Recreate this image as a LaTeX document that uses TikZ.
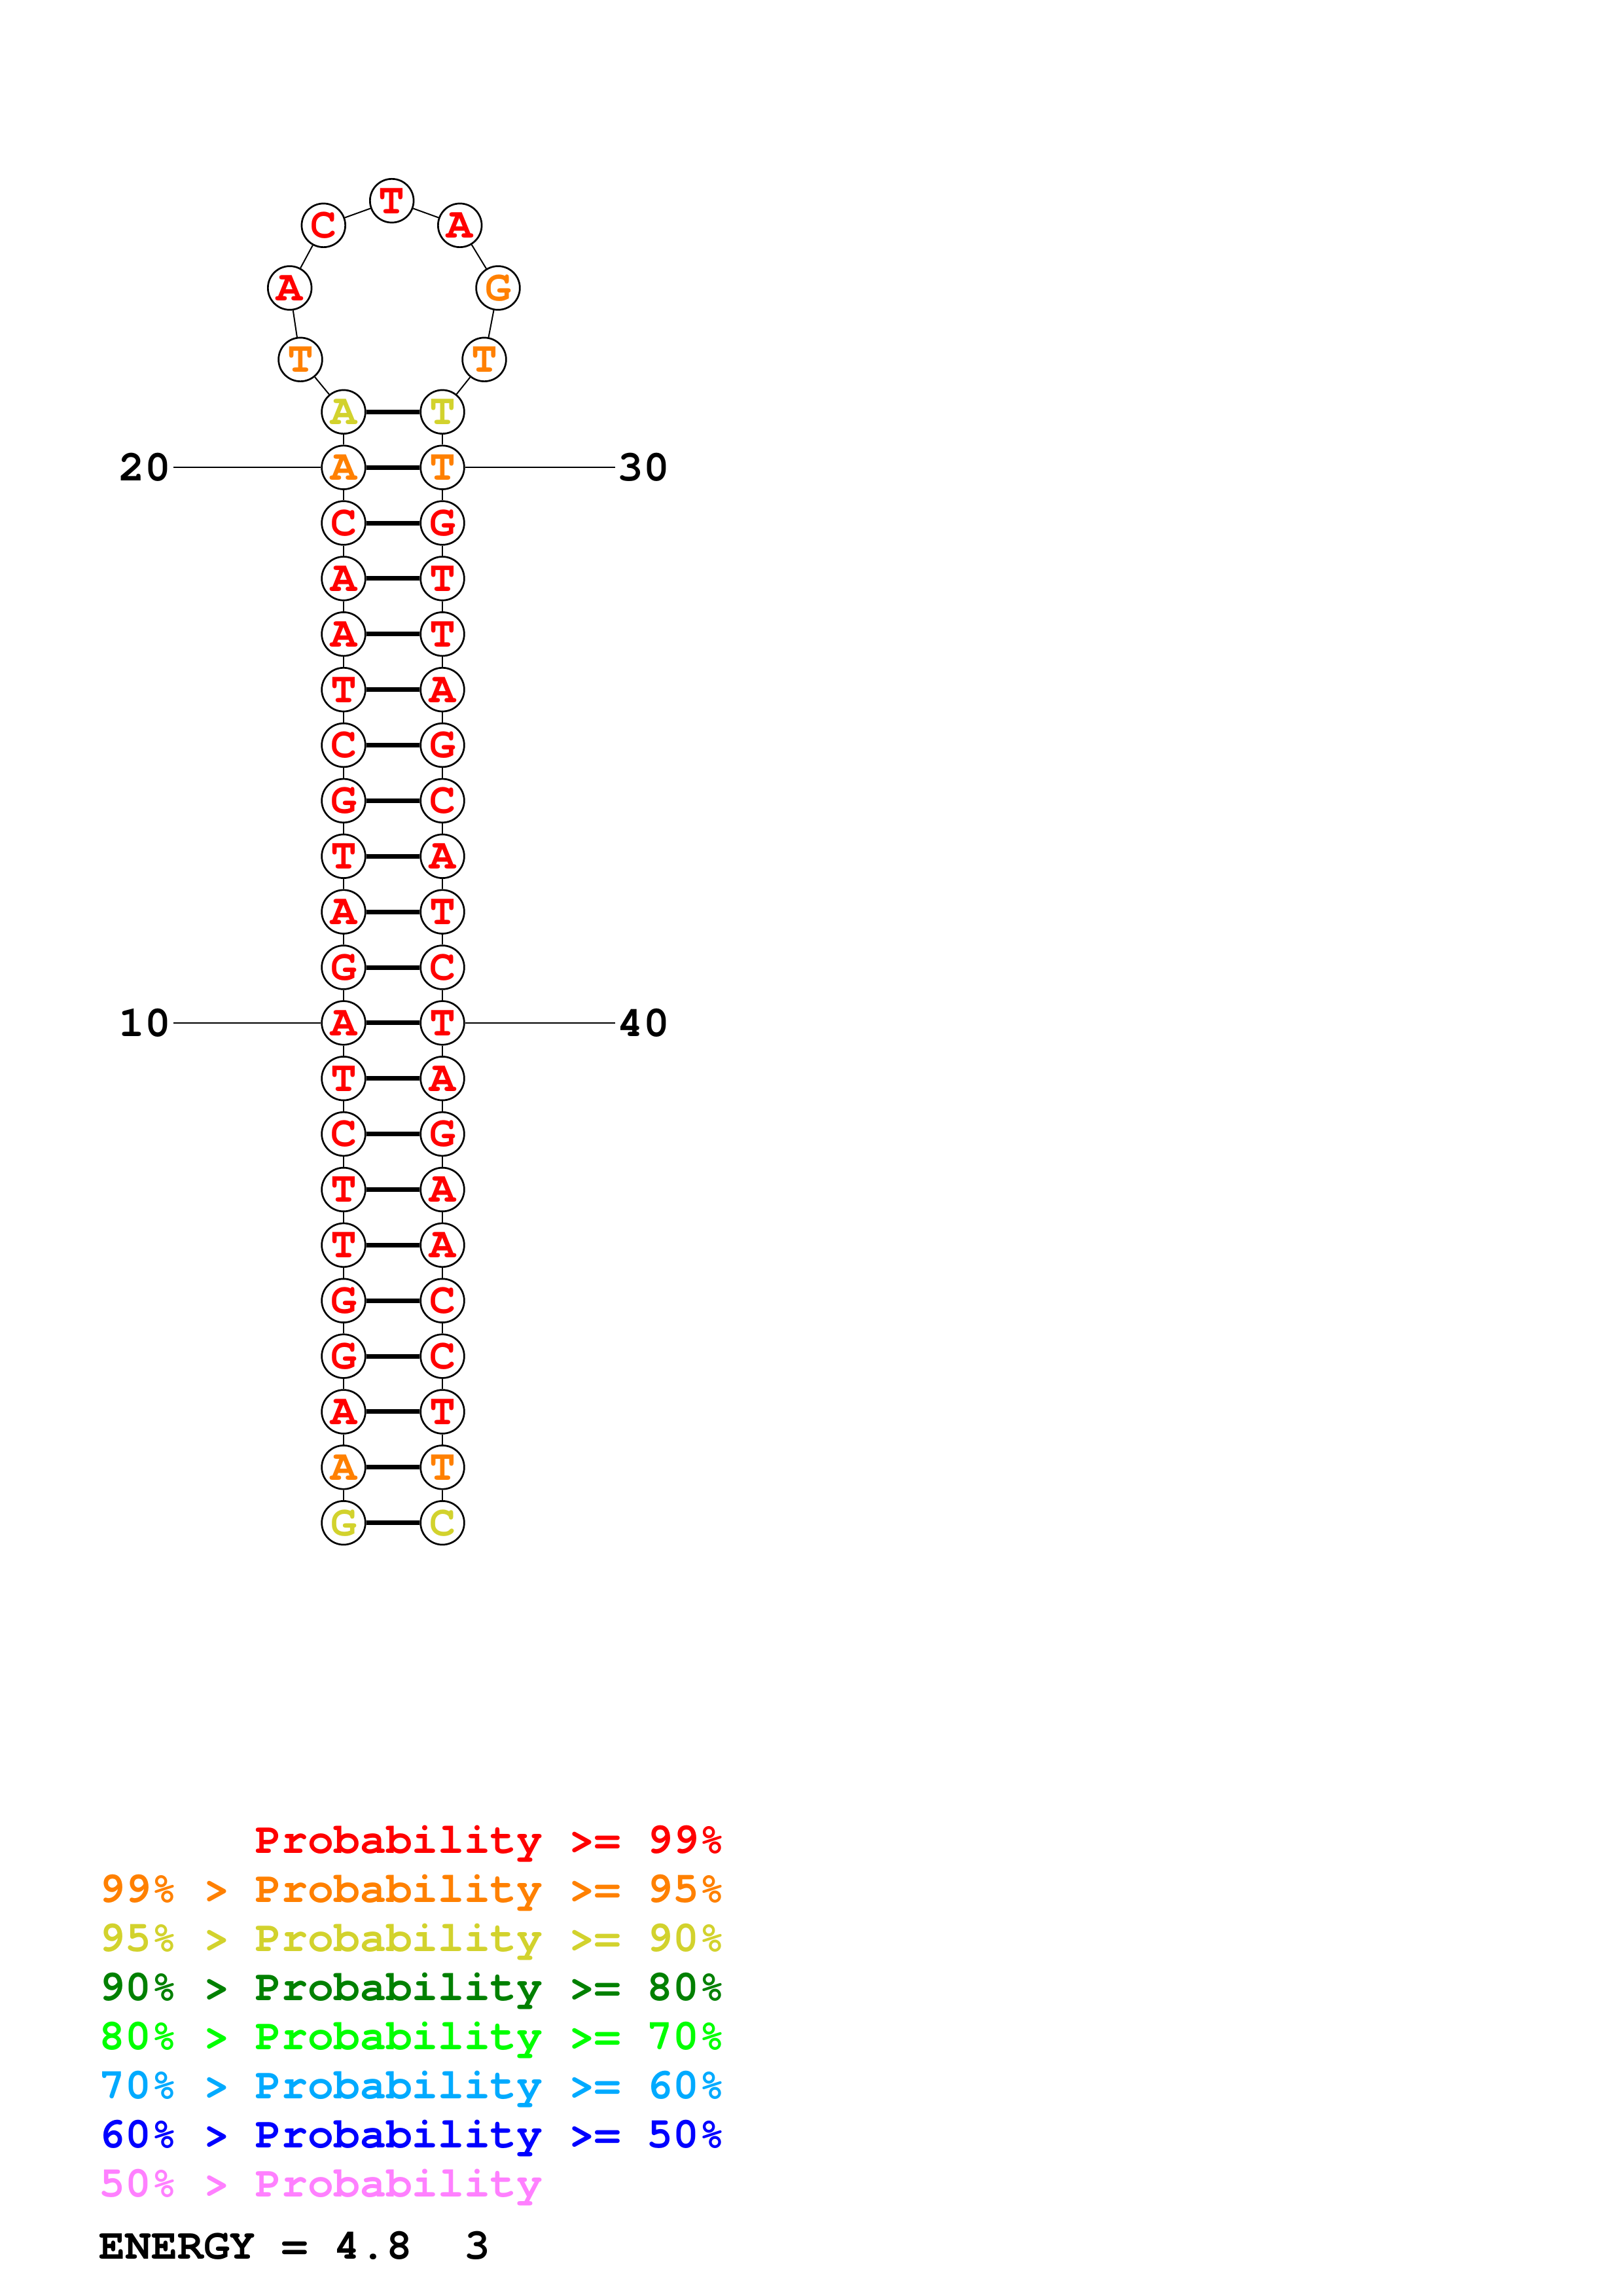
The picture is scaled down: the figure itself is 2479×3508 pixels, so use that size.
\documentclass[tikz,border=0pt]{standalone}
\usepackage{fontspec}
\newfontfamily\cour{TeX Gyre Cursor}
\definecolor{cred}{RGB}{255,0,0}
\definecolor{corg}{RGB}{255,128,0}
\definecolor{cyel}{RGB}{210,210,45}
\definecolor{cdgr}{RGB}{0,128,0}
\definecolor{clgr}{RGB}{0,255,0}
\definecolor{clbl}{RGB}{0,170,255}
\definecolor{cblu}{RGB}{0,0,255}
\definecolor{cpnk}{RGB}{255,128,255}
\newcommand\mysp{\hphantom{0}}
\tikzset{
  nuc/.style={circle, draw=black, line width=0.27mm, fill=white, minimum size=6.67mm, inner sep=0pt,
    font=\cour\bfseries\fontsize{18.9pt}{19pt}\selectfont},
  backbone/.style={line width=0.2mm},
  bond/.style={line width=0.7mm},
  tick/.style={line width=0.16mm},
  numlab/.style={inner sep=0.3mm, font=\cour\bfseries\fontsize{18.9pt}{19pt}\selectfont},
  legend/.style={anchor=base west, inner sep=0pt, font=\cour\bfseries\fontsize{18.9pt}{19pt}\selectfont}
}
\begin{document}
\begin{tikzpicture}[x=0.1mm,y=-0.1mm]
\useasboundingbox (0,0) rectangle (2479,3508);
% left strand 1..21 (bottom to top)
\foreach \i/\b/\c in {1/G/cyel,2/A/corg,3/A/cred,4/G/cred,5/G/cred,6/T/cred,7/T/cred,8/C/cred,9/T/cred,10/A/cred,11/G/cred,12/A/cred,13/T/cred,14/G/cred,15/C/cred,16/T/cred,17/A/cred,18/A/cred,19/C/cred,20/A/corg,21/A/cyel}
  \node[nuc, text=\c] (n\i) at (525, {629.3+84.87*(21-\i)}) {\b};
% loop 22..28
\node[nuc, text=corg] (n22) at (459,549.3) {T};
\node[nuc, text=cred] (n23) at (442.7,440) {A};
\node[nuc, text=cred] (n24) at (494.3,344.3) {C};
\node[nuc, text=cred] (n25) at (598.7,306.7) {T};
\node[nuc, text=cred] (n26) at (702.7,344.3) {A};
\node[nuc, text=corg] (n27) at (761,440) {G};
\node[nuc, text=corg] (n28) at (740,549.3) {T};
% right strand 29..49 (top to bottom)
\foreach \i/\b/\c in {29/T/cyel,30/T/corg,31/G/cred,32/T/cred,33/T/cred,34/A/cred,35/G/cred,36/C/cred,37/A/cred,38/T/cred,39/C/cred,40/T/cred,41/A/cred,42/G/cred,43/A/cred,44/A/cred,45/C/cred,46/C/cred,47/T/cred,48/T/corg,49/C/cyel}
  \node[nuc, text=\c] (n\i) at (676, {629.3+84.87*(\i-29)}) {\b};
% backbone
\foreach \i [evaluate=\i as \j using int(\i+1)] in {1,...,48}
  \draw[backbone] (n\i) -- (n\j);
% base pairs
\foreach \i [evaluate=\i as \j using int(50-\i)] in {1,...,21}
  \draw[bond] (n\i) -- (n\j);
% number labels
\node[numlab, anchor=east] (l10) at (265,{629.3+84.87*11}) {10};
\node[numlab, anchor=east] (l20) at (265,{629.3+84.87*1}) {20};
\node[numlab, anchor=west] (l30) at (940,{629.3+84.87*1}) {30};
\node[numlab, anchor=west] (l40) at (940,{629.3+84.87*11}) {40};
\draw[tick] (l10) -- (n10);
\draw[tick] (l20) -- (n20);
\draw[tick] (l30) -- (n30);
\draw[tick] (l40) -- (n40);
% legend
\node[legend, text=cred] (g1) at (151,2831.7) {\mysp\mysp\mysp\mysp\mysp\mysp Probability\mysp>=\mysp 99\%};
\node[legend, text=corg] (g2) at (151,2906.7) {99\%\mysp>\mysp Probability\mysp>=\mysp 95\%};
\node[legend, text=cyel] (g3) at (151,2981.7) {95\%\mysp>\mysp Probability\mysp>=\mysp 90\%};
\node[legend, text=cdgr] (g4) at (151,3056.7) {90\%\mysp>\mysp Probability\mysp>=\mysp 80\%};
\node[legend, text=clgr] (g5) at (151,3131.7) {80\%\mysp>\mysp Probability\mysp>=\mysp 70\%};
\node[legend, text=clbl] (g6) at (151,3206.7) {70\%\mysp>\mysp Probability\mysp>=\mysp 60\%};
\node[legend, text=cblu] (g7) at (151,3281.7) {60\%\mysp>\mysp Probability\mysp>=\mysp 50\%};
\node[legend, text=cpnk] (g8) at (151,3356.7) {50\%\mysp>\mysp Probability};
\node[legend, text=black] (g9) at (151,3451.7) {ENERGY\mysp=\mysp 4.8\mysp\mysp 3};
\end{tikzpicture}
\end{document}
